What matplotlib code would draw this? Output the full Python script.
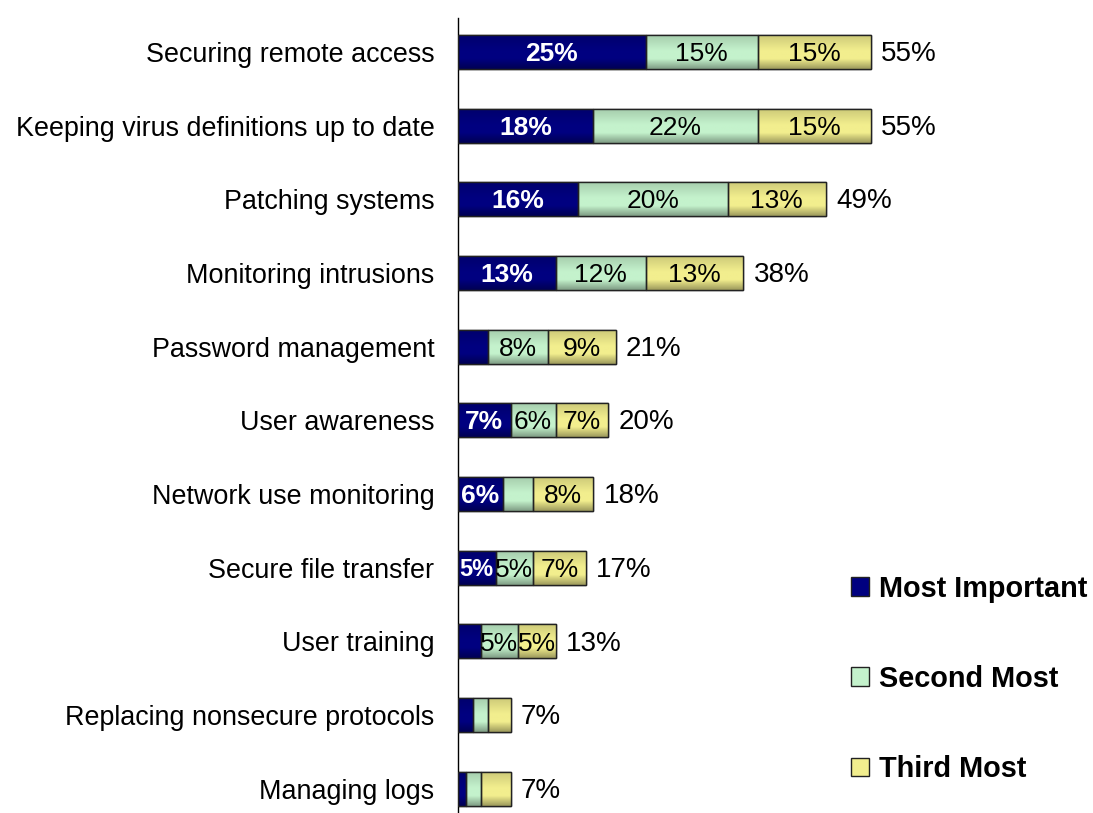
"""
Stacked bar chart: security task priorities.
"""
import matplotlib
matplotlib.use('Agg')
import matplotlib.pyplot as plt
from matplotlib.colors import LinearSegmentedColormap, to_rgb
import numpy as np

plt.rcParams['font.family'] = ['Liberation Sans', 'DejaVu Sans']

categories = ['Securing remote access', 'Keeping virus definitions up to date',
              'Patching systems', 'Monitoring intrusions', 'Password management',
              'User awareness', 'Network use monitoring', 'Secure file transfer',
              'User training', 'Replacing nonsecure protocols', 'Managing logs']
most_important = [25, 18, 16, 13, 4, 7, 6, 5, 3, 2, 1]
second_most = [15, 22, 20, 12, 8, 6, 4, 5, 5, 2, 2]
third_most = [15, 15, 13, 13, 9, 7, 8, 7, 5, 3, 4]
totals = [55, 55, 49, 38, 21, 20, 18, 17, 13, 7, 7]

series_names = ['Most Important', 'Second Most', 'Third Most']
COLORS = ['#000080', '#c4f2cc', '#f2ee8e']


def shade_cmap(color):
    """Vertical shading: darker at the edges, base colour in the middle."""
    r, g, b = to_rgb(color)
    dark = (r * 0.65, g * 0.65, b * 0.65)
    mid = (r * 0.85, g * 0.85, b * 0.85)
    return LinearSegmentedColormap.from_list(
        'shade', [(0, dark), (0.3, (r, g, b)), (0.55, (r, g, b)), (1, mid)])


fig = plt.figure(figsize=(10.93, 8.13), dpi=100)
ax = fig.add_axes([458 / 1093, 0, 450 / 1093, 1 - 18 / 813])

grad = np.linspace(0, 1, 64).reshape(-1, 1)
y = np.arange(len(categories))
left = np.zeros(len(categories))
for i, vals in enumerate([most_important, second_most, third_most]):
    vals = np.array(vals)
    bars = ax.barh(y, vals, left=left, height=0.46, color=COLORS[i],
                   edgecolor='#222222', linewidth=1, label=series_names[i], zorder=2)
    cmap = shade_cmap(COLORS[i])
    for rect in bars:
        x0, y0 = rect.get_x(), rect.get_y()
        im = ax.imshow(grad, extent=[x0, x0 + rect.get_width(), y0, y0 + rect.get_height()],
                       aspect='auto', cmap=cmap, origin='upper', zorder=2.5)
        im.set_clip_path(rect)
        rect_edge = plt.Rectangle((x0, y0), rect.get_width(), rect.get_height(),
                                  fill=False, edgecolor='#222222', linewidth=1, zorder=3)
        ax.add_patch(rect_edge)
    for j, v in enumerate(vals):
        if v < 5:
            continue
        cx = left[j] + v / 2
        if i == 0:
            fs = 17 if v == 5 else 19
            ax.text(cx, y[j] + 0.03, f'{v}%', ha='center', va='center', color='white',
                    fontweight='bold', fontsize=fs, zorder=4)
        else:
            ax.text(cx, y[j] + 0.03, f'{v}%', ha='center', va='center', color='black',
                    fontsize=19, zorder=4)
    left = left + vals

for j, t in enumerate(totals):
    ax.text(t + 1.4, y[j] + 0.03, f'{t}%', ha='left', va='center', fontsize=20)

ax.set_xlim(0, 60)
ax.set_ylim(10.33, -0.46)
ax.set_yticks(y)
ax.set_yticklabels(categories, fontsize=19.4)
ax.tick_params(axis='y', length=0, pad=17)
ax.set_xticks([])
for s in ['top', 'right', 'bottom']:
    ax.spines[s].set_visible(False)
ax.spines['left'].set_linewidth(1)

leg = fig.legend(loc='center left', bbox_to_anchor=(851 / 1093, 1 - 679 / 813),
                 frameon=False, prop={'weight': 'bold', 'size': 20.8},
                 handlelength=0.62, handleheight=0.62, handletextpad=0.35,
                 labelspacing=2.15, borderpad=0, borderaxespad=0)

fig.savefig('out.png', dpi=100, facecolor='white')
plt.close(fig)
